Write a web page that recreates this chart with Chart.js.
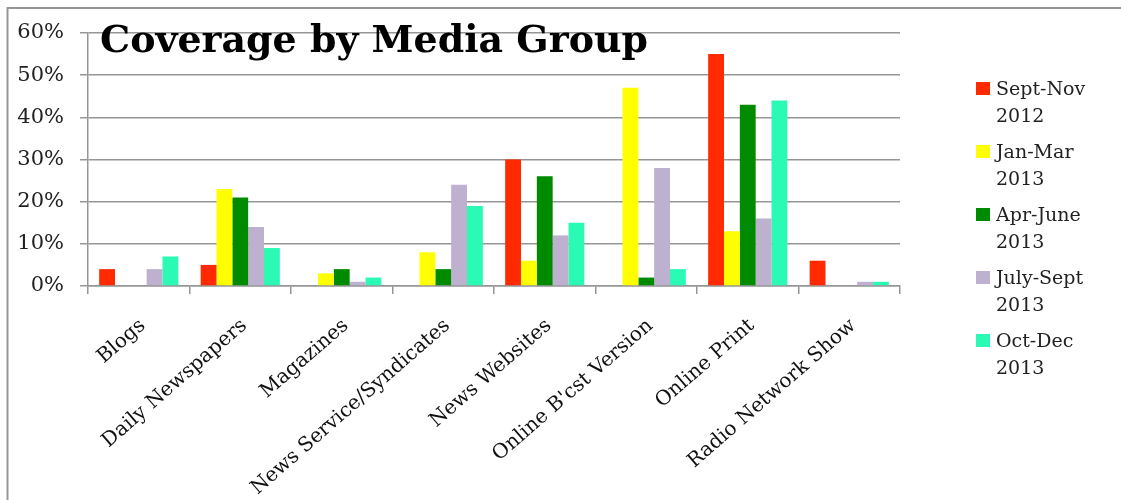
<!DOCTYPE html>
<html>
<head>
<meta charset="utf-8">
<script src="https://cdn.jsdelivr.net/npm/chart.js@4.4.0/dist/chart.umd.min.js"></script>
<style>
	html, body { margin: 0; padding: 0; background: #fff; overflow: hidden; }
	#wrap { width: 1121px; height: 500px; position: relative; }
</style>
</head>
<body>
<div id="wrap"><canvas id="mediaChart"></canvas></div>
<script>
// data (percent of coverage)
const categories = ['Blogs', 'Daily Newspapers', 'Magazines', 'News Service/Syndicates', 'News Websites', "Online B'cst Version", 'Online Print', 'Radio Network Show'];
const seriesNames = ['Sept-Nov 2012', 'Jan-Mar 2013', 'Apr-June 2013', 'July-Sept 2013', 'Oct-Dec 2013'];
const sepNov2012 = [4, 5, 0, 0, 30, 0, 55, 6];
const janMar2013 = [0, 23, 3, 8, 6, 47, 13, 0];
const aprJune2013 = [0, 21, 4, 4, 26, 2, 43, 0];
const julySept2013 = [4, 14, 1, 24, 12, 28, 16, 1];
const octDec2013 = [7, 9, 2, 19, 15, 4, 44, 1];
const yTicks = [0, 10, 20, 30, 40, 50, 60];
const chartTitle = 'Coverage by Media Group';

const seriesValues = [sepNov2012, janMar2013, aprJune2013, julySept2013, octDec2013];
const seriesColors = ['#ff2a00', '#ffff00', '#008a00', '#beb0cf', '#2afab4'];
const gridGray = 'rgb(150,150,150)';

// outer frame (only top + left show in the original)
const framePlugin = {
	id: 'frame',
	beforeDraw(chart) {
		const ctx = chart.ctx;
		ctx.save();
		ctx.strokeStyle = 'rgb(150,150,150)';
		ctx.lineWidth = 2;
		ctx.beginPath();
		ctx.moveTo(7.5, chart.height);
		ctx.lineTo(7.5, 8);
		ctx.lineTo(chart.width + 2, 8);
		ctx.stroke();
		ctx.restore();
	}
};

// title sits over the plot, legend drawn by hand on the right
const extrasPlugin = {
	id: 'extras',
	afterDraw(chart) {
		const ctx = chart.ctx;
		ctx.save();
		// title
		ctx.font = 'bold 38px "DejaVu Serif"';
		ctx.fillStyle = '#000';
		ctx.textAlign = 'left';
		ctx.textBaseline = 'alphabetic';
		ctx.fillText(chartTitle, 100, 52, 548);
		// legend
		ctx.font = '19px "DejaVu Serif"';
		ctx.textBaseline = 'middle';
		chart.data.datasets.forEach((ds, i) => {
			const top = 82 + i * 63;
			ctx.fillStyle = ds.backgroundColor;
			ctx.fillRect(976, top, 14, 13);
			ctx.fillStyle = '#222';
			const parts = ds.label.split(' ');
			ctx.fillText(parts[0], 996, top + 8);
			ctx.fillText(parts[1], 996, top + 35);
		});
		ctx.restore();
	}
};

const ctxBar = document.getElementById('mediaChart').getContext('2d');
const mediaChart = new Chart(ctxBar, {
	type: 'bar',
	data: {
		labels: categories,
		datasets: seriesNames.map((name, i) => ({
			label: name,
			data: seriesValues[i],
			backgroundColor: seriesColors[i],
			borderWidth: 0,
			categoryPercentage: 0.78,
			barPercentage: 1
		}))
	},
	options: {
		responsive: true,
		maintainAspectRatio: false,
		animation: false,
		layout: { padding: { top: 33, right: 221, left: 0, bottom: 0 } },
		plugins: {
			legend: { display: false },
			title: { display: false },
			tooltip: { enabled: false }
		},
		scales: {
			x: {
				offset: true,
				grid: {
					offset: true,
					drawOnChartArea: false,
					drawTicks: true,
					tickLength: 8,
					color: gridGray,
					lineWidth: 1.5
				},
				border: { color: gridGray, width: 1.5 },
				ticks: {
					autoSkip: false,
					minRotation: 41,
					maxRotation: 41,
					padding: 20,
					labelOffset: 4,
					color: '#111',
					font: { family: '"DejaVu Serif"', size: 20 }
				},
				afterFit(scale) { scale.height = 214; }
			},
			y: {
				min: 0,
				max: 60,
				afterBuildTicks(scale) { scale.ticks = yTicks.map(v => ({ value: v })); },
				grid: {
					color: gridGray,
					lineWidth: 1.5,
					drawTicks: true,
					tickLength: 8
				},
				border: { color: gridGray, width: 1.5 },
				ticks: {
					padding: 16,
					color: '#222',
					font: { family: '"DejaVu Serif"', size: 21 },
					callback: v => v + '%'
				},
				afterFit(scale) { scale.width = 88; }
			}
		}
	},
	plugins: [framePlugin, extrasPlugin]
});
</script>
</body>
</html>
